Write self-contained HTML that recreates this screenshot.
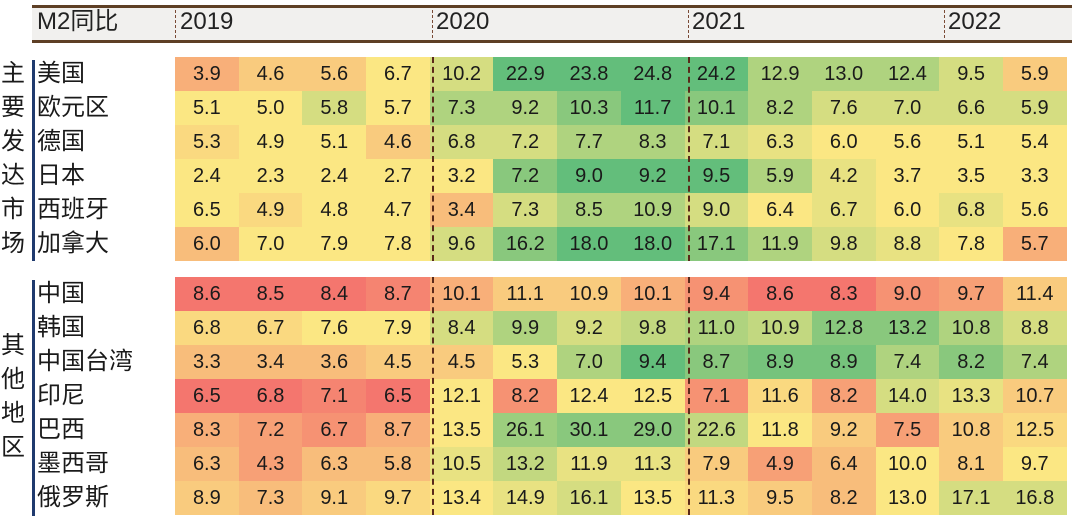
<!DOCTYPE html>
<html><head><meta charset="utf-8"><style>
*{margin:0;padding:0;box-sizing:border-box}
body{width:1080px;height:525px;background:#fff;position:relative;overflow:hidden;font-family:"Liberation Sans","Noto Sans CJK SC",sans-serif;color:#1a1a1a}
.hdr{position:absolute;left:32px;top:5px;width:1040px;height:38px;background:#f1f0ee;border-top:3px solid #5e3f25;border-bottom:3px solid #5e3f25}
.ht{position:absolute;top:8px;font-size:24px;line-height:28px;color:#222}
.hd{position:absolute;top:10px;height:28px;border-left:1.5px dashed #7a4a35}
.row{position:absolute;left:175px;height:34px;display:grid;grid-template-columns:repeat(14,63.7px)}
.row span{display:block;text-align:center;font-size:20px;line-height:34px}
.lab{position:absolute;left:37px;font-size:24px;line-height:34px;height:34px;letter-spacing:0px}
.vl{position:absolute;left:32px;width:3px;background:#1f3a6e}
.gc{position:absolute;left:0px;width:26px;font-size:24px;line-height:34px;text-align:center}
.bd{position:absolute;border-left:2px dashed #5a2a1a}
.c0{background:#F4766E}.c1{background:#F58471}.c2{background:#F69273}.c3{background:#F7A076}.c4{background:#F8AF79}.c5{background:#F8BD7B}.c6{background:#F9CB7E}.c7{background:#FAD980}.c8{background:#FBE783}.c9{background:#E8E282}.c10{background:#D5DD81}.c11{background:#C2D880}.c12{background:#AFD37F}.c13{background:#9CCE7E}.c14{background:#89C87D}.c15{background:#76C37C}.c16{background:#63BE7B}
</style></head><body>
<div class="hdr"></div>
<div class="ht" style="left:37px">M2同比</div>
<div class="ht" style="left:180px">2019</div>
<div class="ht" style="left:436px">2020</div>
<div class="ht" style="left:692px">2021</div>
<div class="ht" style="left:948px">2022</div>
<div class="hd" style="left:175px"></div><div class="hd" style="left:432px"></div><div class="hd" style="left:688px"></div><div class="hd" style="left:944px"></div>

<div class="vl" style="top:60px;height:201px"></div>
<div class="vl" style="top:280px;height:236px"></div>
<div class="gc" style="top:57px">主</div><div class="gc" style="top:91px">要</div><div class="gc" style="top:125px">发</div><div class="gc" style="top:159px">达</div><div class="gc" style="top:193px">市</div><div class="gc" style="top:227px">场</div>
<div class="gc" style="top:329px">其</div><div class="gc" style="top:363px">他</div><div class="gc" style="top:397px">地</div><div class="gc" style="top:431px">区</div>

<div class="lab" style="top:57px">美国</div>
<div class="lab" style="top:91px">欧元区</div>
<div class="lab" style="top:125px">德国</div>
<div class="lab" style="top:159px">日本</div>
<div class="lab" style="top:193px">西班牙</div>
<div class="lab" style="top:227px">加拿大</div>
<div class="lab" style="top:277px">中国</div>
<div class="lab" style="top:311px">韩国</div>
<div class="lab" style="top:345px">中国台湾</div>
<div class="lab" style="top:379px">印尼</div>
<div class="lab" style="top:413px">巴西</div>
<div class="lab" style="top:447px">墨西哥</div>
<div class="lab" style="top:481px">俄罗斯</div>

<div class="row" style="top:57px"><span class="c4">3.9</span><span class="c6">4.6</span><span class="c6">5.6</span><span class="c8">6.7</span><span class="c10">10.2</span><span class="c16">22.9</span><span class="c16">23.8</span><span class="c16">24.8</span><span class="c16">24.2</span><span class="c12">12.9</span><span class="c12">13.0</span><span class="c12">12.4</span><span class="c10">9.5</span><span class="c6">5.9</span></div>
<div class="row" style="top:91px"><span class="c8">5.1</span><span class="c8">5.0</span><span class="c10">5.8</span><span class="c8">5.7</span><span class="c12">7.3</span><span class="c12">9.2</span><span class="c14">10.3</span><span class="c16">11.7</span><span class="c14">10.1</span><span class="c12">8.2</span><span class="c10">7.6</span><span class="c10">7.0</span><span class="c10">6.6</span><span class="c10">5.9</span></div>
<div class="row" style="top:125px"><span class="c7">5.3</span><span class="c8">4.9</span><span class="c8">5.1</span><span class="c6">4.6</span><span class="c10">6.8</span><span class="c10">7.2</span><span class="c12">7.7</span><span class="c12">8.3</span><span class="c10">7.1</span><span class="c9">6.3</span><span class="c8">6.0</span><span class="c8">5.6</span><span class="c8">5.1</span><span class="c8">5.4</span></div>
<div class="row" style="top:159px"><span class="c8">2.4</span><span class="c8">2.3</span><span class="c8">2.4</span><span class="c8">2.7</span><span class="c8">3.2</span><span class="c14">7.2</span><span class="c16">9.0</span><span class="c16">9.2</span><span class="c16">9.5</span><span class="c12">5.9</span><span class="c9">4.2</span><span class="c8">3.7</span><span class="c8">3.5</span><span class="c8">3.3</span></div>
<div class="row" style="top:193px"><span class="c8">6.5</span><span class="c7">4.9</span><span class="c8">4.8</span><span class="c8">4.7</span><span class="c5">3.4</span><span class="c10">7.3</span><span class="c12">8.5</span><span class="c12">10.9</span><span class="c10">9.0</span><span class="c8">6.4</span><span class="c9">6.7</span><span class="c8">6.0</span><span class="c9">6.8</span><span class="c8">5.6</span></div>
<div class="row" style="top:227px"><span class="c5">6.0</span><span class="c8">7.0</span><span class="c8">7.9</span><span class="c8">7.8</span><span class="c10">9.6</span><span class="c14">16.2</span><span class="c16">18.0</span><span class="c16">18.0</span><span class="c14">17.1</span><span class="c12">11.9</span><span class="c10">9.8</span><span class="c9">8.8</span><span class="c8">7.8</span><span class="c4">5.7</span></div>

<div class="row" style="top:277px"><span class="c0">8.6</span><span class="c0">8.5</span><span class="c0">8.4</span><span class="c1">8.7</span><span class="c4">10.1</span><span class="c6">11.1</span><span class="c6">10.9</span><span class="c4">10.1</span><span class="c2">9.4</span><span class="c0">8.6</span><span class="c0">8.3</span><span class="c2">9.0</span><span class="c3">9.7</span><span class="c6">11.4</span></div>
<div class="row" style="top:311px"><span class="c7">6.8</span><span class="c7">6.7</span><span class="c8">7.6</span><span class="c8">7.9</span><span class="c10">8.4</span><span class="c12">9.9</span><span class="c10">9.2</span><span class="c11">9.8</span><span class="c12">11.0</span><span class="c11">10.9</span><span class="c14">12.8</span><span class="c14">13.2</span><span class="c12">10.8</span><span class="c10">8.8</span></div>
<div class="row" style="top:345px"><span class="c5">3.3</span><span class="c5">3.4</span><span class="c5">3.6</span><span class="c6">4.5</span><span class="c6">4.5</span><span class="c8">5.3</span><span class="c12">7.0</span><span class="c16">9.4</span><span class="c14">8.7</span><span class="c15">8.9</span><span class="c15">8.9</span><span class="c12">7.4</span><span class="c14">8.2</span><span class="c12">7.4</span></div>
<div class="row" style="top:379px"><span class="c0">6.5</span><span class="c0">6.8</span><span class="c1">7.1</span><span class="c0">6.5</span><span class="c8">12.1</span><span class="c2">8.2</span><span class="c8">12.4</span><span class="c8">12.5</span><span class="c2">7.1</span><span class="c7">11.6</span><span class="c3">8.2</span><span class="c10">14.0</span><span class="c9">13.3</span><span class="c6">10.7</span></div>
<div class="row" style="top:413px"><span class="c4">8.3</span><span class="c3">7.2</span><span class="c2">6.7</span><span class="c4">8.7</span><span class="c8">13.5</span><span class="c13">26.1</span><span class="c14">30.1</span><span class="c14">29.0</span><span class="c11">22.6</span><span class="c8">11.8</span><span class="c6">9.2</span><span class="c3">7.5</span><span class="c6">10.8</span><span class="c7">12.5</span></div>
<div class="row" style="top:447px"><span class="c5">6.3</span><span class="c3">4.3</span><span class="c5">6.3</span><span class="c5">5.8</span><span class="c9">10.5</span><span class="c11">13.2</span><span class="c9">11.9</span><span class="c9">11.3</span><span class="c6">7.9</span><span class="c3">4.9</span><span class="c5">6.4</span><span class="c8">10.0</span><span class="c6">8.1</span><span class="c8">9.7</span></div>
<div class="row" style="top:481px"><span class="c6">8.9</span><span class="c5">7.3</span><span class="c6">9.1</span><span class="c7">9.7</span><span class="c8">13.4</span><span class="c9">14.9</span><span class="c10">16.1</span><span class="c8">13.5</span><span class="c7">11.3</span><span class="c6">9.5</span><span class="c5">8.2</span><span class="c8">13.0</span><span class="c10">17.1</span><span class="c10">16.8</span></div>

<div class="bd" style="left:432px;top:57px;height:204px"></div>
<div class="bd" style="left:688px;top:57px;height:204px"></div>
<div class="bd" style="left:432px;top:277px;height:238px"></div>
<div class="bd" style="left:688px;top:277px;height:238px"></div>
</body></html>
